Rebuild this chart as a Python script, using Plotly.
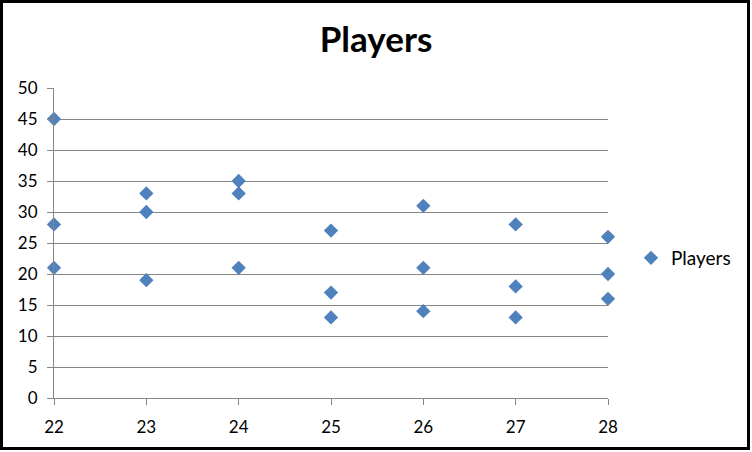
import plotly.graph_objects as go

ages = [22, 22, 22, 23, 23, 23, 24, 24, 24, 25, 25, 25, 26, 26, 26, 27, 27, 27, 28, 28, 28]
players = [45, 28, 21, 33, 30, 19, 35, 33, 21, 27, 17, 13, 31, 21, 14, 28, 18, 13, 26, 20, 16]
x_ticks = [22, 23, 24, 25, 26, 27, 28]
y_ticks = [0, 5, 10, 15, 20, 25, 30, 35, 40, 45, 50]

W, H = 752, 452
L, R, T, B = 54, 144, 88, 54
pw, ph = W - L - R, H - T - B

fig = go.Figure()
fig.add_trace(go.Scatter(
    x=ages, y=players, mode="markers", name="Players",
    marker=dict(symbol="diamond", size=11, color="#4F81BD",
                line=dict(width=0)),
    cliponaxis=False,
))

font = "Lato, Calibri, Carlito, sans-serif"
fig.update_layout(
    width=W, height=H, autosize=False,
    margin=dict(l=L, r=R, t=T, b=B, pad=0),
    paper_bgcolor="white", plot_bgcolor="white",
    title=dict(text="<b>Players</b>", x=0.5, xref="container", xanchor="center",
               y=1 - 40 / H, yref="container", yanchor="middle",
               font=dict(family=font, size=35, color="black")),
    font=dict(family=font, size=17, color="black"),
    showlegend=True,
    legend=dict(x=(631 - L) / pw, y=(H - B - 258) / ph, xref="paper", yref="paper",
                xanchor="left", yanchor="middle", font=dict(size=19),
                bgcolor="rgba(0,0,0,0)", itemwidth=30),
    xaxis=dict(range=[22, 28], tickvals=x_ticks, showgrid=False, zeroline=False,
               showline=True, linecolor="#868686", linewidth=1,
               ticks="outside", ticklen=6, tickcolor="#868686",
               ticklabelstandoff=8, tickfont=dict(size=17)),
    yaxis=dict(range=[0, 50], tickvals=y_ticks, showgrid=True, gridcolor="#868686",
               gridwidth=1, zeroline=False, showline=True, linecolor="#868686",
               linewidth=1, ticks="outside", ticklen=6, tickcolor="#868686",
               ticklabelstandoff=6, tickfont=dict(size=17)),
    shapes=[dict(type="rect", xref="paper", yref="paper",
                 x0=(1.5 - L) / pw, x1=(W - 3.5 - L) / pw,
                 y0=(3.5 - B) / ph, y1=(H - 1.5 - B) / ph,
                 line=dict(color="black", width=3), layer="above")],
)

fig.write_html(
    "out.html",
    config={"responsive": False},
    post_script="document.body.style.margin='0';document.body.style.overflow='hidden';",
)
